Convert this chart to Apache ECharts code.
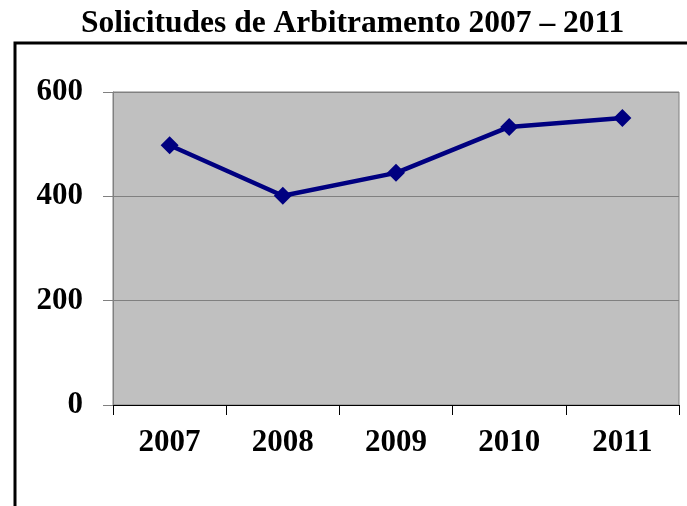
<!DOCTYPE html>
<html>
<head>
    <meta charset="utf-8">
    <title>Solicitudes de Arbitramento</title>
    <script src="https://cdn.jsdelivr.net/npm/echarts@6/dist/echarts.min.js"></script>
    <style>
        body { margin: 0; background: #fff; }
    </style>
</head>
<body>
    <div id="main" style="width: 687px;height:506px;"></div>
    <script type="text/javascript">
        // datos del grafico
        var years = ['2007', '2008', '2009', '2010', '2011'];
        var solicitudes = [498, 401, 445, 533, 550];
        var yTicks = { min: 0, max: 600, interval: 200 };

        var serif = '"Liberation Serif", "DejaVu Serif", serif';
        var myChart = echarts.init(document.getElementById('main'));

        var option = {
            backgroundColor: '#ffffff',
            animation: false,
            title: {
                text: 'Solicitudes de Arbitramento 2007 – 2011',
                left: 81,
                top: 8,
                padding: [0, 0, 0, 0],
                textStyle: { fontFamily: serif, fontWeight: 'bold', fontSize: 31.5, color: '#000' }
            },
            // marco negro
            graphic: [{
                type: 'rect',
                shape: { x: 15, y: 43, width: 700, height: 500 },
                style: { fill: 'none', stroke: '#000', lineWidth: 3 },
                silent: true
            }],
            grid: {
                left: 113, top: 92, right: 8, bottom: 101,
                show: true,
                backgroundColor: '#c0c0c0',
                borderColor: '#808080',
                borderWidth: 1
            },
            xAxis: {
                type: 'category',
                data: years,
                boundaryGap: true,
                axisLine: { lineStyle: { color: '#000', width: 1 } },
                axisTick: { show: true, length: 10, alignWithLabel: false, lineStyle: { color: '#000' } },
                axisLabel: { margin: 22, fontFamily: serif, fontWeight: 'bold', fontSize: 31, color: '#000' }
            },
            yAxis: {
                type: 'value',
                min: yTicks.min,
                max: yTicks.max,
                interval: yTicks.interval,
                axisLine: { show: true, lineStyle: { color: '#808080' } },
                axisTick: { show: true, length: 10, lineStyle: { color: '#808080' } },
                splitLine: { lineStyle: { color: '#808080', width: 1 } },
                axisLabel: { margin: 30, fontFamily: serif, fontWeight: 'bold', fontSize: 31, color: '#000' }
            },
            series: [{
                type: 'line',
                data: solicitudes,
                symbol: 'diamond',
                symbolSize: 18,
                lineStyle: { color: '#000080', width: 4.5 },
                itemStyle: { color: '#000080' }
            }]
        };
        myChart.setOption(option);
    </script>
</body>
</html>
